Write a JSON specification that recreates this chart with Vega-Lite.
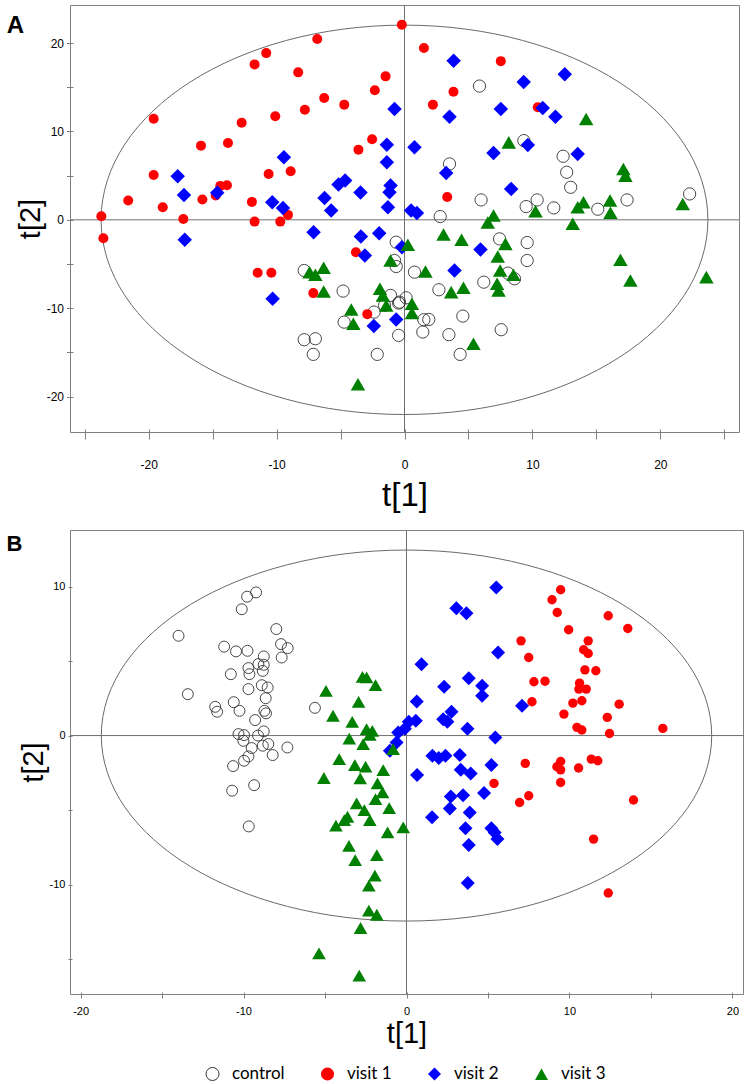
{
"$schema": "https://vega.github.io/schema/vega-lite/v6.json",
"background": "white",
"padding": {"left": 5, "top": 4, "right": 5, "bottom": 0},
"spacing": 16,
"datasets": {
"a": [
{"group":"control","t1":5.86,"t2":15.13},{"group":"control","t1":9.33,"t2":8.96},{"group":"control","t1":3.52,"t2":6.32},{"group":"control","t1":12.4,"t2":7.19},{"group":"control","t1":12.68,"t2":5.38},{"group":"control","t1":12.99,"t2":3.68},{"group":"control","t1":22.29,"t2":2.93},{"group":"control","t1":17.4,"t2":2.25},{"group":"control","t1":5.99,"t2":2.25},{"group":"control","t1":9.51,"t2":1.5},{"group":"control","t1":10.37,"t2":2.25},{"group":"control","t1":11.67,"t2":1.35},{"group":"control","t1":15.11,"t2":1.2},{"group":"control","t1":2.79,"t2":0.37},{"group":"control","t1":7.43,"t2":-2.15},{"group":"control","t1":9.59,"t2":-2.57},{"group":"control","t1":9.59,"t2":-4.6},{"group":"control","t1":8.08,"t2":-6.03},{"group":"control","t1":8.6,"t2":-6.67},{"group":"control","t1":6.2,"t2":-7.05},{"group":"control","t1":2.69,"t2":-7.91},{"group":"control","t1":0.78,"t2":-5.92},{"group":"control","t1":0.13,"t2":-8.82},{"group":"control","t1":-0.46,"t2":-9.42},{"group":"control","t1":1.51,"t2":-11.3},{"group":"control","t1":1.9,"t2":-11.27},{"group":"control","t1":4.56,"t2":-10.89},{"group":"control","t1":1.43,"t2":-12.69},{"group":"control","t1":3.47,"t2":-12.99},{"group":"control","t1":7.56,"t2":-12.43},{"group":"control","t1":4.35,"t2":-15.22},{"group":"control","t1":-0.46,"t2":-13.07},{"group":"control","t1":-0.65,"t2":-2.53},{"group":"control","t1":-0.78,"t2":-4.6},{"group":"control","t1":-0.65,"t2":-5.28},{"group":"control","t1":-7.84,"t2":-5.73},{"group":"control","t1":-4.8,"t2":-8.06},{"group":"control","t1":-1.09,"t2":-8.55},{"group":"control","t1":-0.39,"t2":-9.31},{"group":"control","t1":-2.38,"t2":-10.44},{"group":"control","t1":-4.72,"t2":-11.57},{"group":"control","t1":-7.84,"t2":-13.56},{"group":"control","t1":-6.97,"t2":-13.45},{"group":"control","t1":-7.13,"t2":-15.22},{"group":"control","t1":-2.13,"t2":-15.22},{"group":"control","t1":-1.56,"t2":-9.68},
{"group":"visit 1","t1":-0.21,"t2":22.07},{"group":"visit 1","t1":-6.82,"t2":20.45},{"group":"visit 1","t1":-10.81,"t2":18.86},{"group":"visit 1","t1":-11.72,"t2":17.58},{"group":"visit 1","t1":-8.31,"t2":16.68},{"group":"visit 1","t1":-1.48,"t2":16.23},{"group":"visit 1","t1":-2.32,"t2":14.65},{"group":"visit 1","t1":-6.28,"t2":13.78},{"group":"visit 1","t1":-4.71,"t2":13.03},{"group":"visit 1","t1":-7.79,"t2":12.46},{"group":"visit 1","t1":-10.1,"t2":11.71},{"group":"visit 1","t1":-12.73,"t2":10.99},{"group":"visit 1","t1":-19.61,"t2":11.44},{"group":"visit 1","t1":-2.53,"t2":9.11},{"group":"visit 1","t1":-3.6,"t2":7.94},{"group":"visit 1","t1":-15.91,"t2":8.39},{"group":"visit 1","t1":-13.8,"t2":8.69},{"group":"visit 1","t1":-19.61,"t2":5.08},{"group":"visit 1","t1":-10.62,"t2":5.19},{"group":"visit 1","t1":-8.9,"t2":5.49},{"group":"visit 1","t1":-14.4,"t2":3.84},{"group":"visit 1","t1":-13.88,"t2":3.91},{"group":"visit 1","t1":-14.76,"t2":2.75},{"group":"visit 1","t1":-21.6,"t2":2.18},{"group":"visit 1","t1":-18.9,"t2":1.43},{"group":"visit 1","t1":-15.8,"t2":2.29},{"group":"visit 1","t1":-11.93,"t2":2.03},{"group":"visit 1","t1":-17.29,"t2":0.1},{"group":"visit 1","t1":-23.7,"t2":0.41},{"group":"visit 1","t1":-11.72,"t2":-0.2},{"group":"visit 1","t1":-9.71,"t2":-0.2},{"group":"visit 1","t1":-9.11,"t2":0.56},{"group":"visit 1","t1":-23.54,"t2":-2.08},{"group":"visit 1","t1":-3.8,"t2":-3.66},{"group":"visit 1","t1":-11.48,"t2":-5.99},{"group":"visit 1","t1":-10.41,"t2":-5.99},{"group":"visit 1","t1":-7.13,"t2":-8.29},{"group":"visit 1","t1":-2.91,"t2":-10.67},{"group":"visit 1","t1":1.52,"t2":19.43},{"group":"visit 1","t1":7.53,"t2":17.95},{"group":"visit 1","t1":3.83,"t2":14.49},{"group":"visit 1","t1":2.22,"t2":13.03},{"group":"visit 1","t1":10.42,"t2":12.73},{"group":"visit 1","t1":3.34,"t2":2.59},
{"group":"visit 2","t1":-0.78,"t2":12.54},{"group":"visit 2","t1":-1.38,"t2":8.5},{"group":"visit 2","t1":-1.38,"t2":6.5},{"group":"visit 2","t1":-9.43,"t2":7.07},{"group":"visit 2","t1":-17.73,"t2":4.93},{"group":"visit 2","t1":-17.24,"t2":2.82},{"group":"visit 2","t1":-14.64,"t2":3.05},{"group":"visit 2","t1":-10.34,"t2":1.99},{"group":"visit 2","t1":-9.5,"t2":1.35},{"group":"visit 2","t1":-5.16,"t2":3.99},{"group":"visit 2","t1":-4.64,"t2":4.44},{"group":"visit 2","t1":-3.44,"t2":3.08},{"group":"visit 2","t1":-6.25,"t2":2.48},{"group":"visit 2","t1":-5.73,"t2":1.05},{"group":"visit 2","t1":-1.09,"t2":3.88},{"group":"visit 2","t1":-1.17,"t2":3.12},{"group":"visit 2","t1":-1.3,"t2":1.43},{"group":"visit 2","t1":3.84,"t2":17.99},{"group":"visit 2","t1":9.32,"t2":15.59},{"group":"visit 2","t1":12.53,"t2":16.46},{"group":"visit 2","t1":7.53,"t2":12.54},{"group":"visit 2","t1":3.52,"t2":11.67},{"group":"visit 2","t1":10.81,"t2":12.64},{"group":"visit 2","t1":11.8,"t2":11.67},{"group":"visit 2","t1":0.78,"t2":8.2},{"group":"visit 2","t1":6.96,"t2":7.56},{"group":"visit 2","t1":9.64,"t2":8.46},{"group":"visit 2","t1":13.54,"t2":7.45},{"group":"visit 2","t1":3.26,"t2":5.3},{"group":"visit 2","t1":8.34,"t2":3.5},{"group":"visit 2","t1":0.52,"t2":1.05},{"group":"visit 2","t1":0.97,"t2":0.78},{"group":"visit 2","t1":-17.18,"t2":-2.26},{"group":"visit 2","t1":-7.11,"t2":-1.4},{"group":"visit 2","t1":-3.41,"t2":-1.89},{"group":"visit 2","t1":-1.98,"t2":-1.51},{"group":"visit 2","t1":-3.1,"t2":-4.04},{"group":"visit 2","t1":-0.2,"t2":-3.1},{"group":"visit 2","t1":-10.31,"t2":-8.93},{"group":"visit 2","t1":-2.4,"t2":-12.02},{"group":"visit 2","t1":-0.65,"t2":-11.27},{"group":"visit 2","t1":5.94,"t2":-3.36},{"group":"visit 2","t1":3.91,"t2":-5.73},
{"group":"visit 3","t1":14.2,"t2":11.41},{"group":"visit 3","t1":8.15,"t2":8.76},{"group":"visit 3","t1":17.11,"t2":5.75},{"group":"visit 3","t1":17.27,"t2":5.0},{"group":"visit 3","t1":21.75,"t2":1.8},{"group":"visit 3","t1":13.99,"t2":1.99},{"group":"visit 3","t1":13.54,"t2":1.42},{"group":"visit 3","t1":16.07,"t2":2.18},{"group":"visit 3","t1":16.1,"t2":0.79},{"group":"visit 3","t1":10.24,"t2":0.98},{"group":"visit 3","t1":6.96,"t2":0.49},{"group":"visit 3","t1":6.51,"t2":-0.3},{"group":"visit 3","t1":13.15,"t2":-0.45},{"group":"visit 3","t1":3.05,"t2":-1.66},{"group":"visit 3","t1":4.46,"t2":-2.26},{"group":"visit 3","t1":0.26,"t2":-2.83},{"group":"visit 3","t1":7.89,"t2":-2.72},{"group":"visit 3","t1":7.29,"t2":-4.15},{"group":"visit 3","t1":1.64,"t2":-5.84},{"group":"visit 3","t1":7.48,"t2":-5.73},{"group":"visit 3","t1":8.52,"t2":-6.22},{"group":"visit 3","t1":4.61,"t2":-7.69},{"group":"visit 3","t1":3.65,"t2":-8.18},{"group":"visit 3","t1":7.24,"t2":-7.24},{"group":"visit 3","t1":7.35,"t2":-7.99},{"group":"visit 3","t1":16.88,"t2":-4.52},{"group":"visit 3","t1":17.66,"t2":-6.86},{"group":"visit 3","t1":23.6,"t2":-6.48},{"group":"visit 3","t1":0.58,"t2":-9.5},{"group":"visit 3","t1":0.58,"t2":-10.55},{"group":"visit 3","t1":5.39,"t2":-14.02},{"group":"visit 3","t1":-1.09,"t2":-4.6},{"group":"visit 3","t1":-7.42,"t2":-5.92},{"group":"visit 3","t1":-6.97,"t2":-6.22},{"group":"visit 3","t1":-6.32,"t2":-5.43},{"group":"visit 3","t1":-6.32,"t2":-8.1},{"group":"visit 3","t1":-1.92,"t2":-7.8},{"group":"visit 3","t1":-1.69,"t2":-8.55},{"group":"visit 3","t1":-1.43,"t2":-9.68},{"group":"visit 3","t1":-4.16,"t2":-10.14},{"group":"visit 3","t1":-4.0,"t2":-11.76},{"group":"visit 3","t1":-3.64,"t2":-18.61}
],
"b": [
{"group":"control","t1":-9.23,"t2":9.61},{"group":"control","t1":-9.78,"t2":9.32},{"group":"control","t1":-10.11,"t2":8.48},{"group":"control","t1":-13.99,"t2":6.7},{"group":"control","t1":-7.99,"t2":7.15},{"group":"control","t1":-7.7,"t2":6.14},{"group":"control","t1":-7.29,"t2":5.87},{"group":"control","t1":-7.66,"t2":5.24},{"group":"control","t1":-11.19,"t2":5.97},{"group":"control","t1":-10.46,"t2":5.65},{"group":"control","t1":-9.76,"t2":5.69},{"group":"control","t1":-8.76,"t2":5.31},{"group":"control","t1":-9.09,"t2":4.8},{"group":"control","t1":-8.76,"t2":4.75},{"group":"control","t1":-9.7,"t2":4.53},{"group":"control","t1":-8.82,"t2":4.34},{"group":"control","t1":-9.64,"t2":4.12},{"group":"control","t1":-10.78,"t2":4.12},{"group":"control","t1":-8.88,"t2":3.38},{"group":"control","t1":-8.52,"t2":3.23},{"group":"control","t1":-9.7,"t2":3.12},{"group":"control","t1":-13.42,"t2":2.78},{"group":"control","t1":-8.64,"t2":2.51},{"group":"control","t1":-10.6,"t2":2.24},{"group":"control","t1":-11.74,"t2":1.93},{"group":"control","t1":-11.62,"t2":1.6},{"group":"control","t1":-10.25,"t2":1.66},{"group":"control","t1":-8.72,"t2":1.66},{"group":"control","t1":-8.62,"t2":1.49},{"group":"control","t1":-9.29,"t2":1.04},{"group":"control","t1":-5.62,"t2":1.86},{"group":"control","t1":-10.31,"t2":0.1},{"group":"control","t1":-9.97,"t2":0.03},{"group":"control","t1":-9.11,"t2":0.0},{"group":"control","t1":-8.76,"t2":0.28},{"group":"control","t1":-10.01,"t2":-0.35},{"group":"control","t1":-8.48,"t2":-0.57},{"group":"control","t1":-8.82,"t2":-0.68},{"group":"control","t1":-9.5,"t2":-0.84},{"group":"control","t1":-7.31,"t2":-0.8},{"group":"control","t1":-8.21,"t2":-1.31},{"group":"control","t1":-9.7,"t2":-1.4},{"group":"control","t1":-9.97,"t2":-1.69},{"group":"control","t1":-10.64,"t2":-2.05},{"group":"control","t1":-9.35,"t2":-3.33},{"group":"control","t1":-10.7,"t2":-3.7},{"group":"control","t1":-9.68,"t2":-6.1},
{"group":"visit 1","t1":9.46,"t2":9.79},{"group":"visit 1","t1":8.93,"t2":9.12},{"group":"visit 1","t1":9.25,"t2":8.26},{"group":"visit 1","t1":12.38,"t2":8.04},{"group":"visit 1","t1":13.58,"t2":7.19},{"group":"visit 1","t1":9.95,"t2":7.1},{"group":"visit 1","t1":7.03,"t2":6.36},{"group":"visit 1","t1":11.15,"t2":6.36},{"group":"visit 1","t1":10.87,"t2":5.76},{"group":"visit 1","t1":11.15,"t2":5.51},{"group":"visit 1","t1":7.5,"t2":5.24},{"group":"visit 1","t1":10.95,"t2":4.41},{"group":"visit 1","t1":11.62,"t2":4.35},{"group":"visit 1","t1":7.82,"t2":3.61},{"group":"visit 1","t1":8.5,"t2":3.65},{"group":"visit 1","t1":10.62,"t2":3.52},{"group":"visit 1","t1":10.58,"t2":3.12},{"group":"visit 1","t1":11.03,"t2":3.12},{"group":"visit 1","t1":10.76,"t2":2.34},{"group":"visit 1","t1":10.21,"t2":2.18},{"group":"visit 1","t1":7.7,"t2":2.27},{"group":"visit 1","t1":13.05,"t2":2.11},{"group":"visit 1","t1":9.66,"t2":1.44},{"group":"visit 1","t1":12.32,"t2":1.22},{"group":"visit 1","t1":10.46,"t2":0.55},{"group":"visit 1","t1":10.76,"t2":0.37},{"group":"visit 1","t1":12.46,"t2":0.14},{"group":"visit 1","t1":15.73,"t2":0.48},{"group":"visit 1","t1":7.29,"t2":-1.87},{"group":"visit 1","t1":9.23,"t2":-2.09},{"group":"visit 1","t1":9.46,"t2":-1.74},{"group":"visit 1","t1":9.46,"t2":-2.3},{"group":"visit 1","t1":10.56,"t2":-2.18},{"group":"visit 1","t1":11.34,"t2":-1.58},{"group":"visit 1","t1":11.74,"t2":-1.69},{"group":"visit 1","t1":5.37,"t2":-3.21},{"group":"visit 1","t1":9.46,"t2":-3.15},{"group":"visit 1","t1":6.94,"t2":-4.49},{"group":"visit 1","t1":7.5,"t2":-4.04},{"group":"visit 1","t1":13.93,"t2":-4.33},{"group":"visit 1","t1":11.48,"t2":-6.95},{"group":"visit 1","t1":12.38,"t2":-10.57},
{"group":"visit 2","t1":5.51,"t2":9.94},{"group":"visit 2","t1":3.06,"t2":8.55},{"group":"visit 2","t1":3.68,"t2":8.21},{"group":"visit 2","t1":5.62,"t2":5.58},{"group":"visit 2","t1":0.92,"t2":4.79},{"group":"visit 2","t1":3.82,"t2":3.85},{"group":"visit 2","t1":2.31,"t2":3.27},{"group":"visit 2","t1":4.64,"t2":3.34},{"group":"visit 2","t1":4.64,"t2":2.67},{"group":"visit 2","t1":0.63,"t2":2.29},{"group":"visit 2","t1":7.09,"t2":2.0},{"group":"visit 2","t1":2.76,"t2":1.6},{"group":"visit 2","t1":2.25,"t2":1.1},{"group":"visit 2","t1":2.51,"t2":0.93},{"group":"visit 2","t1":0.14,"t2":0.93},{"group":"visit 2","t1":0.57,"t2":1.0},{"group":"visit 2","t1":3.74,"t2":0.46},{"group":"visit 2","t1":5.45,"t2":-0.13},{"group":"visit 2","t1":-0.51,"t2":0.21},{"group":"visit 2","t1":-1.02,"t2":-1.02},{"group":"visit 2","t1":-0.61,"t2":-0.46},{"group":"visit 2","t1":-0.1,"t2":0.45},{"group":"visit 2","t1":1.59,"t2":-1.36},{"group":"visit 2","t1":1.98,"t2":-1.51},{"group":"visit 2","t1":2.39,"t2":-1.36},{"group":"visit 2","t1":3.27,"t2":-1.31},{"group":"visit 2","t1":5.21,"t2":-1.98},{"group":"visit 2","t1":3.33,"t2":-2.3},{"group":"visit 2","t1":3.94,"t2":-2.54},{"group":"visit 2","t1":0.65,"t2":-2.65},{"group":"visit 2","t1":4.76,"t2":-3.86},{"group":"visit 2","t1":2.72,"t2":-4.09},{"group":"visit 2","t1":3.47,"t2":-4.0},{"group":"visit 2","t1":2.66,"t2":-4.89},{"group":"visit 2","t1":3.88,"t2":-5.16},{"group":"visit 2","t1":1.57,"t2":-5.49},{"group":"visit 2","t1":3.62,"t2":-6.23},{"group":"visit 2","t1":5.21,"t2":-6.23},{"group":"visit 2","t1":5.41,"t2":-6.5},{"group":"visit 2","t1":5.58,"t2":-6.95},{"group":"visit 2","t1":3.82,"t2":-7.35},{"group":"visit 2","t1":3.76,"t2":-9.9},
{"group":"visit 3","t1":-4.94,"t2":3.0},{"group":"visit 3","t1":-2.7,"t2":3.94},{"group":"visit 3","t1":-2.45,"t2":3.9},{"group":"visit 3","t1":-1.9,"t2":3.38},{"group":"visit 3","t1":-2.94,"t2":2.26},{"group":"visit 3","t1":-4.51,"t2":1.33},{"group":"visit 3","t1":-3.33,"t2":0.92},{"group":"visit 3","t1":-2.45,"t2":0.43},{"group":"visit 3","t1":-2.1,"t2":0.32},{"group":"visit 3","t1":-3.51,"t2":-0.2},{"group":"visit 3","t1":-2.66,"t2":-0.57},{"group":"visit 3","t1":-2.25,"t2":0.05},{"group":"visit 3","t1":-0.82,"t2":-0.91},{"group":"visit 3","t1":-4.13,"t2":-1.58},{"group":"visit 3","t1":-3.17,"t2":-1.98},{"group":"visit 3","t1":-2.51,"t2":-2.09},{"group":"visit 3","t1":-1.43,"t2":-2.32},{"group":"visit 3","t1":-5.07,"t2":-2.85},{"group":"visit 3","t1":-2.84,"t2":-2.88},{"group":"visit 3","t1":-1.78,"t2":-3.21},{"group":"visit 3","t1":-1.47,"t2":-3.82},{"group":"visit 3","t1":-1.9,"t2":-4.26},{"group":"visit 3","t1":-1.06,"t2":-4.87},{"group":"visit 3","t1":-3.06,"t2":-4.55},{"group":"visit 3","t1":-2.59,"t2":-5.0},{"group":"visit 3","t1":-3.62,"t2":-5.45},{"group":"visit 3","t1":-3.82,"t2":-5.67},{"group":"visit 3","t1":-4.33,"t2":-6.05},{"group":"visit 3","t1":-2.25,"t2":-5.67},{"group":"visit 3","t1":-1.16,"t2":-6.5},{"group":"visit 3","t1":-0.2,"t2":-6.17},{"group":"visit 3","t1":-3.53,"t2":-7.4},{"group":"visit 3","t1":-3.15,"t2":-8.36},{"group":"visit 3","t1":-1.82,"t2":-8.02},{"group":"visit 3","t1":-1.94,"t2":-9.41},{"group":"visit 3","t1":-2.31,"t2":-10.08},{"group":"visit 3","t1":-2.31,"t2":-11.76},{"group":"visit 3","t1":-1.82,"t2":-12.03},{"group":"visit 3","t1":-2.82,"t2":-12.92},{"group":"visit 3","t1":-5.37,"t2":-14.62},{"group":"visit 3","t1":-2.9,"t2":-16.12}
]
},
"vconcat": [
{
"width": 669, "height": 427,
"layer": [
{"data": {"values": [{}]}, "mark": {"type": "point", "shape": "M1,0C1,0.3544,0.5523,0.6417,0,0.6417C-0.5523,0.6417,-1,0.3544,-1,0C-1,-0.3544,-0.5523,-0.6417,0,-0.6417C0.5523,-0.6417,1,-0.3544,1,0Z", "size": 368206, "filled": false, "color": "#6a6a6a", "opacity": 1, "strokeWidth": 1}, "encoding": {"x": {"datum": 0, "type": "quantitative"}, "y": {"datum": 0, "type": "quantitative"}}},
{"data": {"values": [{}]}, "mark": {"type": "rule", "color": "#707070", "strokeWidth": 1}, "encoding": {"x": {"datum": 0, "type": "quantitative"}}},
{"data": {"values": [{}]}, "mark": {"type": "rule", "color": "#707070", "strokeWidth": 1}, "encoding": {"y": {"datum": 0, "type": "quantitative"}}},
{"data": {"values": [{}]}, "mark": {"type": "text", "text": "A", "font": "Liberation Sans", "fontSize": 24, "fontWeight": "bold", "align": "left", "baseline": "alphabetic", "color": "#000000"}, "encoding": {"x": {"datum": -31.1, "type": "quantitative"}, "y": {"datum": 21.16, "type": "quantitative"}}},
{"data": {"name": "a"}, "mark": {"type": "point", "filled": true, "opacity": 1, "strokeWidth": 0.9},
 "encoding": {
  "x": {"field": "t1", "type": "quantitative", "scale": {"domain": [-26.15, 26.15], "nice": false, "zero": false},
        "axis": {"values": [-25,-20,-15,-10,-5,0,5,10,15,20,25], "labelExpr": "datum.value % 10 === 0 ? '' + datum.value : ''", "title": "t[1]", "offset": -3, "tickSize": 10, "labelPadding": 20, "titleFontSize": 33, "titlePadding": 9}},
  "y": {"field": "t2", "type": "quantitative", "scale": {"domain": [-24.0, 24.3], "nice": false, "zero": false},
        "axis": {"values": [-20,-15,-10,-5,0,5,10,15,20], "labelExpr": "datum.value % 10 === 0 ? '' + datum.value : ''", "title": "t[2]", "offset": -3, "tickSize": 6.5, "labelPadding": 3, "titleFontSize": 29, "titlePadding": 1}},
  "shape": {"field": "group", "type": "nominal", "scale": {"domain": ["control","visit 1","visit 2","visit 3"], "range": ["circle","circle","diamond","triangle-up"]}},
  "fill": {"field": "group", "type": "nominal", "scale": {"domain": ["control","visit 1","visit 2","visit 3"], "range": ["transparent","#ff0000","#0000ff","#008000"]}},
  "stroke": {"field": "group", "type": "nominal", "scale": {"domain": ["control","visit 1","visit 2","visit 3"], "range": ["#333333","transparent","transparent","transparent"]}},
  "size": {"condition": [{"test": "datum.group === 'control'", "value": 150}, {"test": "datum.group === 'visit 1'", "value": 100}], "value": 210}
 }}
]
},
{
"width": 673, "height": 464,
"layer": [
{"data": {"values": [{}]}, "mark": {"type": "point", "shape": "M1,0C1,0.3357,0.5523,0.6078,0,0.6078C-0.5523,0.6078,-1,0.3357,-1,0C-1,-0.3357,-0.5523,-0.6078,0,-0.6078C0.5523,-0.6078,1,-0.3357,1,0Z", "size": 372588, "filled": false, "color": "#6a6a6a", "opacity": 1, "strokeWidth": 1}, "encoding": {"x": {"datum": 0, "type": "quantitative"}, "y": {"datum": 0, "type": "quantitative"}}},
{"data": {"values": [{}]}, "mark": {"type": "rule", "color": "#707070", "strokeWidth": 1}, "encoding": {"x": {"datum": 0, "type": "quantitative"}}},
{"data": {"values": [{}]}, "mark": {"type": "rule", "color": "#707070", "strokeWidth": 1}, "encoding": {"y": {"datum": 0, "type": "quantitative"}}},
{"data": {"values": [{}]}, "mark": {"type": "text", "text": "B", "font": "Liberation Sans", "fontSize": 22, "fontWeight": "bold", "align": "left", "baseline": "alphabetic", "color": "#000000"}, "encoding": {"x": {"datum": -24.55, "type": "quantitative"}, "y": {"datum": 12.4, "type": "quantitative"}}},
{"data": {"name": "b"}, "mark": {"type": "point", "filled": true, "opacity": 1, "strokeWidth": 0.9},
 "encoding": {
  "x": {"field": "t1", "type": "quantitative", "scale": {"domain": [-20.65, 20.65], "nice": false, "zero": false},
        "axis": {"values": [-20,-15,-10,-5,0,5,10,15,20], "labelExpr": "datum.value % 10 === 0 ? '' + datum.value : ''", "title": "t[1]", "offset": -2, "tickSize": 6, "labelPadding": 7, "labelFontSize": 11, "titleFontSize": 29, "titlePadding": 3}},
  "y": {"field": "t2", "type": "quantitative", "scale": {"domain": [-17.35, 13.8], "nice": false, "zero": false},
        "axis": {"values": [-15,-10,-5,0,5,10], "labelExpr": "datum.value % 10 === 0 ? '' + datum.value : ''", "title": "t[2]", "offset": -2, "tickSize": 4, "labelPadding": 3, "labelFontSize": 11, "titleFontSize": 29, "titlePadding": 1}},
  "shape": {"field": "group", "type": "nominal", "scale": {"domain": ["control","visit 1","visit 2","visit 3"], "range": ["circle","circle","diamond","triangle-up"]}},
  "fill": {"field": "group", "type": "nominal", "scale": {"domain": ["control","visit 1","visit 2","visit 3"], "range": ["transparent","#ff0000","#0000ff","#008000"]},
           "legend": {"orient": "none", "legendX": 134, "legendY": 1060, "direction": "horizontal", "title": null, "padding": 0, "labelFont": "Lato", "labelFontSize": 17, "labelColor": "#000000", "columnPadding": 33, "labelOffset": 11, "symbolStrokeWidth": 1, "symbolSize": 170}},
  "stroke": {"field": "group", "type": "nominal", "scale": {"domain": ["control","visit 1","visit 2","visit 3"], "range": ["#333333","transparent","transparent","transparent"]}},
  "size": {"condition": [{"test": "datum.group === 'control'", "value": 120}, {"test": "datum.group === 'visit 1'", "value": 88}, {"test": "datum.group === 'visit 2'", "value": 196}], "value": 185}
 }}
]
}
],
"config": {
 "view": {"stroke": "#808080", "strokeWidth": 1},
 "axis": {"grid": false, "domain": false, "tickColor": "#808080", "tickWidth": 1, "labelColor": "#000000", "labelFont": "Liberation Sans", "labelFontSize": 12, "titleColor": "#000000", "titleFont": "Liberation Sans", "titleFontWeight": "normal"}
}
}
